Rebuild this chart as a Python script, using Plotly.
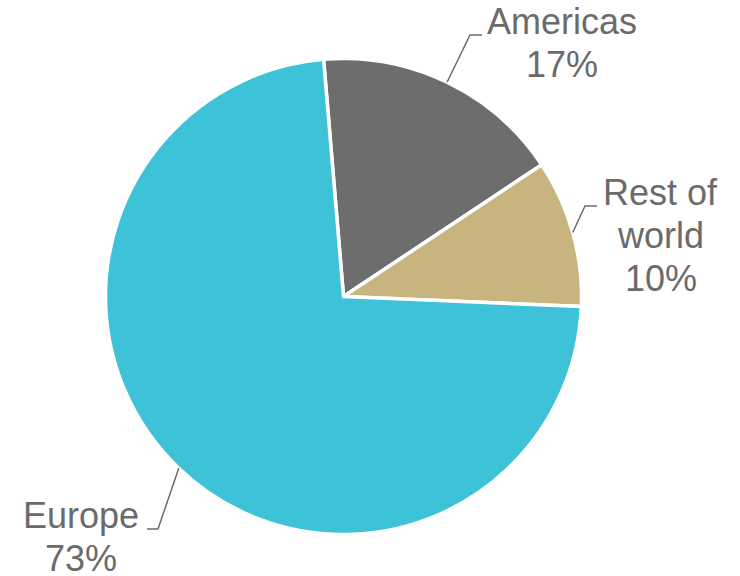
import math
import plotly.graph_objects as go

# Revenue split by region
regions = ["Americas", "Rest of world", "Europe"]
shares = [17, 10, 73]
label_lines = [["Americas", "17%"], ["Rest of", "world", "10%"], ["Europe", "73%"]]
colors = ["#6d6d6d", "#c8b47e", "#3ec2d7"]

W, H = 740, 576
cx, cy, r = 343.5, 296.5, 238
rotation = -4.8

fig = go.Figure(go.Pie(
    labels=regions,
    values=shares,
    sort=False,
    direction="clockwise",
    rotation=rotation,
    marker=dict(colors=colors, line=dict(color="white", width=3.5)),
    textinfo="none",
    hoverinfo="label+percent",
    showlegend=False,
    domain=dict(x=[(cx - r) / W, (cx + r) / W],
                y=[(H - cy - r) / H, (H - cy + r) / H]),
))

# Leader lines: start on the arc at each slice's mid angle, bend, then a short tick
elbows = [(470, 35, 482), (585, 206, 597), (158, 529, 147)]
# label block: horizontal centre, first line centre, line pitch
label_pos = [(562, 21.5), (660.5, 192.5), (81, 515.5)]
line_pitch = 43
text_color = "#6b6b6b"

total = sum(shares)
acc = 0.0
shapes = []
annotations = []
for i, v in enumerate(shares):
    mid = rotation + (acc + v / 2) / total * 360
    acc += v
    a = math.radians(mid)
    sx = cx + r * math.sin(a)
    sy = cy - r * math.cos(a)
    ex, ey, tx = elbows[i]
    path = f"M {sx/W} {1 - sy/H} L {ex/W} {1 - ey/H} L {tx/W} {1 - ey/H}"
    shapes.append(dict(type="path", xref="paper", yref="paper", path=path,
                       line=dict(color=text_color, width=1.5)))
    lx, ly = label_pos[i]
    for j, line in enumerate(label_lines[i]):
        annotations.append(dict(x=lx / W, y=1 - (ly + j * line_pitch) / H,
                                xref="paper", yref="paper",
                                text=line, showarrow=False,
                                xanchor="center", yanchor="middle", align="center",
                                font=dict(family="Liberation Sans, Arial, sans-serif",
                                          size=36, color=text_color)))

fig.update_layout(
    width=W, height=H,
    margin=dict(l=0, r=0, t=0, b=0),
    paper_bgcolor="white",
    plot_bgcolor="white",
    shapes=shapes,
    annotations=annotations,
)

fig.write_html("out.html")
